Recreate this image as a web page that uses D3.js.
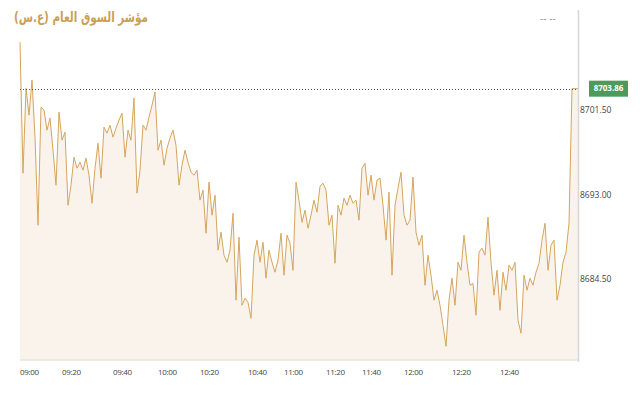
<!DOCTYPE html>
<html><head><meta charset="utf-8">
<script src="https://cdn.jsdelivr.net/npm/d3@7"></script>
<style>
html,body{margin:0;padding:0;background:#fff;}
svg{display:block;}
</style></head>
<body>
<svg id="chart" width="640" height="400"></svg>
<script>
const title = "مؤشر السوق العام (ع.س)";
const values = [
8708.54,8695.37,8703.90,8701.20,8704.72,8698.99,8690.14,8702.00,8701.70,8699.69,
8700.90,8697.68,8694.16,8701.50,8698.69,8699.49,8692.15,8694.16,8696.98,8695.87,
8696.47,8695.67,8696.88,8695.17,8692.35,8695.87,8698.38,8694.87,8699.99,8699.39,
8700.19,8698.99,8699.89,8700.70,8701.40,8696.98,8699.69,8698.69,8702.91,8693.36,
8695.67,8700.19,8699.69,8701.00,8702.20,8703.51,8697.68,8698.69,8696.17,8697.88,
8698.89,8699.69,8698.18,8694.16,8696.17,8697.68,8696.47,8695.47,8695.17,8695.67,
8692.66,8693.66,8689.34,8694.46,8691.15,8693.16,8687.63,8689.44,8687.13,8686.42,
8687.63,8691.35,8682.61,8688.94,8682.10,8682.81,8682.40,8680.80,8687.13,8688.64,
8686.42,8688.43,8684.82,8687.63,8686.42,8685.42,8686.63,8689.34,8685.12,8689.14,
8688.33,8685.62,8694.46,8692.66,8690.44,8691.65,8689.84,8691.15,8692.66,8691.45,
8694.06,8694.36,8693.66,8690.14,8691.15,8686.32,8692.15,8691.15,8692.86,8692.15,
8693.16,8692.35,8692.66,8690.65,8695.87,8696.37,8693.16,8695.17,8692.66,8694.67,
8694.87,8692.15,8688.64,8693.46,8685.12,8692.15,8693.86,8695.47,8691.15,8690.14,
8690.65,8694.97,8689.44,8688.13,8689.14,8684.11,8687.13,8685.12,8682.61,8683.61,
8682.10,8680.09,8677.98,8682.61,8684.82,8682.10,8686.42,8685.62,8689.14,8686.42,
8684.11,8684.31,8681.10,8687.43,8687.83,8687.13,8690.95,8686.42,8683.11,8685.62,
8681.60,8685.42,8683.61,8686.12,8685.62,8686.42,8680.60,8679.29,8685.12,8683.61,
8684.82,8684.11,8685.42,8686.32,8688.64,8690.34,8685.62,8688.13,8688.64,8682.61,
8684.11,8686.42,8687.43,8690.34,8703.86,8703.86,8703.86
];
const timeLabels = ["09:00","09:20","09:40","10:00","10:20","10:40","11:00","11:20","11:40","12:00","12:20","12:40"];
const timeIndex = [0,14,31,46,60,76,88,102,114,128,144,160];
const yTicks = [8684.5, 8693.0, 8701.5];
const lastValue = 8703.86;

const svg = d3.select("#chart");
const mLeft = 20, mRight = 578, mTop = 40, mBottom = 360;
const x = d3.scaleLinear().domain([0, values.length - 1]).range([mLeft, mRight]);
const y = d3.scaleLinear().domain([8676.6, 8708.75]).range([mBottom, mTop]);

// title
svg.append("text")
  .attr("x", 148).attr("y", 22)
  .attr("direction", "rtl")
  .style("direction", "rtl")
  .attr("text-anchor", "start")
  .attr("font-family", "DejaVu Sans, Noto Sans, sans-serif")
  .attr("font-weight", "bold")
  .attr("font-size", 14)
  .attr("textLength", 134)
  .attr("lengthAdjust", "spacingAndGlyphs")
  .attr("fill", "#c9a055")
  .text(title);

// top-right dashes
svg.append("text")
  .attr("x", 540).attr("y", 22)
  .attr("font-family", "DejaVu Sans, sans-serif")
  .attr("font-size", 9)
  .attr("fill", "#8a8a8a")
  .text("-- --");

// area
const area = d3.area()
  .x((d, i) => x(i))
  .y0(mBottom)
  .y1(d => y(d));
svg.append("path").datum(values)
  .attr("d", area)
  .attr("fill", "#f9f3ec");

// bottom border
svg.append("line")
  .attr("x1", mLeft).attr("x2", mRight)
  .attr("y1", mBottom).attr("y2", mBottom)
  .attr("stroke", "#ebe4d8").attr("stroke-width", 1.5);

// right axis line
svg.append("line")
  .attr("x1", mRight + 0.5).attr("x2", mRight + 0.5)
  .attr("y1", 10).attr("y2", 362)
  .attr("stroke", "#d6d6dc").attr("stroke-width", 1.5);

// line
const line = d3.line()
  .x((d, i) => x(i))
  .y(d => y(d));
svg.append("path").datum(values)
  .attr("d", line)
  .attr("fill", "none")
  .attr("stroke", "#d6a55c")
  .attr("stroke-width", 1)
  .attr("stroke-linejoin", "round");

// last value dotted line
const ly = y(lastValue);
svg.append("line")
  .attr("x1", mLeft).attr("x2", mRight)
  .attr("y1", Math.round(ly) + 0.5).attr("y2", Math.round(ly) + 0.5)
  .attr("stroke", "#555").attr("stroke-width", 1)
  .attr("stroke-dasharray", "1,2");

// last value label
svg.append("rect")
  .attr("x", 589).attr("y", ly - 8)
  .attr("width", 39).attr("height", 16)
  .attr("fill", "#4c9a5c");
svg.append("text")
  .attr("x", 608.5).attr("y", ly)
  .attr("dy", "0.35em")
  .attr("text-anchor", "middle")
  .attr("font-family", "Open Sans, sans-serif")
  .attr("font-weight", "bold")
  .attr("font-size", 8)
  .attr("fill", "#fff")
  .text(lastValue.toFixed(2));

// y axis labels
svg.selectAll(".ytick").data(yTicks).enter().append("text")
  .attr("class", "ytick")
  .attr("x", 580).attr("y", d => y(d))
  .attr("dy", "0.1em")
  .attr("font-family", "Open Sans, sans-serif")
  .attr("font-size", 8.5)
  .attr("fill", "#444")
  .text(d => d.toFixed(2));

// x axis labels
svg.selectAll(".xtick").data(timeIndex).enter().append("text")
  .attr("class", "xtick")
  .attr("x", d => x(d)).attr("y", 375)
  .attr("font-family", "Open Sans, sans-serif")
  .attr("font-size", 8)
  .attr("letter-spacing", -0.3)
  .attr("fill", "#444")
  .text((d, i) => timeLabels[i]);
</script>
</body></html>
